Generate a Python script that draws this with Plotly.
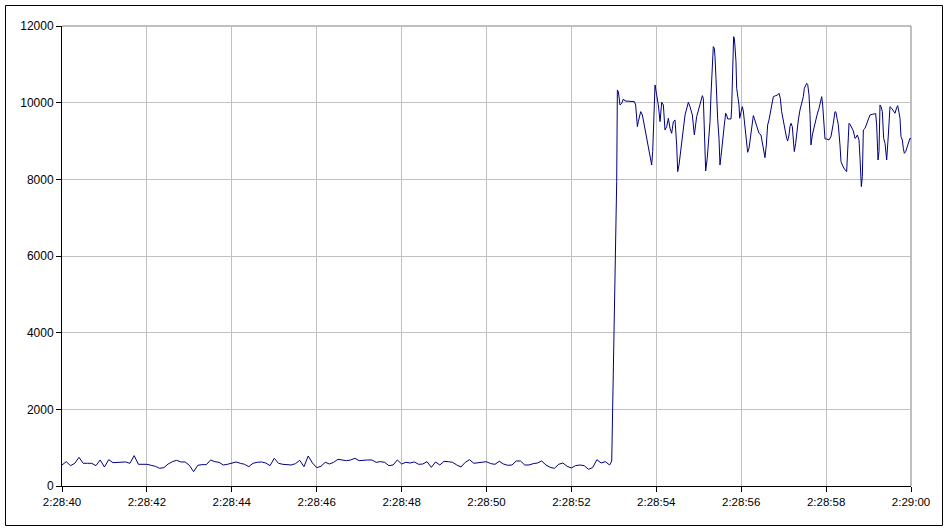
import plotly.graph_objects as go

# ---- data ----
tick_seconds = [0, 2, 4, 6, 8, 10, 12, 14, 16, 18, 20]
tick_labels = ["2:28:40", "2:28:42", "2:28:44", "2:28:46", "2:28:48", "2:28:50",
               "2:28:52", "2:28:54", "2:28:56", "2:28:58", "2:29:00"]

# low-load phase, sampled every 0.1 s from 2:28:40
low_values = [
    548, 635, 531, 592, 748, 592, 592, 592, 531, 679,
    496, 687, 609, 618, 618, 627, 592, 792, 566, 566,
    566, 540, 513, 461, 479, 574, 635, 670, 627, 627,
    540, 374, 540, 557, 557, 679, 635, 618, 548, 566,
    592, 627, 592, 566, 505, 592, 618, 627, 600, 531,
    722, 592, 566, 548, 548, 583, 670, 505, 783, 600,
    479, 513, 618, 574, 618, 696, 679, 661, 679, 722,
    661, 679, 679, 679, 618, 635, 618, 531, 548, 679,
    574, 618, 600, 627, 566, 574, 635, 487, 627, 548,
    644, 635, 618, 548, 496, 618, 687, 592, 600, 618,
    635, 583, 566, 644, 574, 540, 548, 653, 653, 548,
    548, 583, 600, 653, 548, 487, 461, 566, 600, 513,
    470, 531, 548, 531, 435, 479, 687, 600, 635, 548,
]
low_times = [i / 10 for i in range(len(low_values))]

# high-load phase (seconds after 2:28:40)
high_times = [
    12.95, 13.067, 13.083, 13.106, 13.145, 13.185, 13.224, 13.263, 13.342, 13.483,
    13.514, 13.554, 13.577, 13.632, 13.672, 13.734, 13.813, 13.891, 13.915, 13.946,
    13.970, 14.009, 14.048, 14.088, 14.127, 14.166, 14.205, 14.245, 14.284, 14.323,
    14.362, 14.402, 14.441, 14.480, 14.504, 14.535, 14.598, 14.677, 14.755, 14.794,
    14.849, 14.896, 14.951, 15.030, 15.085, 15.108, 15.148, 15.163, 15.200, 15.230,
    15.265, 15.288, 15.320, 15.343, 15.367, 15.383, 15.406, 15.422, 15.445, 15.477,
    15.500, 15.524, 15.555, 15.579, 15.602, 15.634, 15.657, 15.681, 15.760, 15.775,
    15.799, 15.822, 15.838, 15.854, 15.877, 15.893, 15.917, 15.948, 15.964, 15.995,
    16.026, 16.050, 16.074, 16.105, 16.129, 16.152, 16.184, 16.215, 16.246, 16.286,
    16.309, 16.341, 16.364, 16.388, 16.419, 16.466, 16.498, 16.529, 16.560, 16.592,
    16.623, 16.655, 16.686, 16.717, 16.757, 16.812, 16.859, 16.890, 16.922, 16.953,
    16.992, 17.032, 17.071, 17.094, 17.126, 17.149, 17.173, 17.204, 17.228, 17.251,
    17.283, 17.306, 17.346, 17.385, 17.424, 17.464, 17.487, 17.518, 17.542, 17.566,
    17.597, 17.621, 17.636, 17.644, 17.676, 17.723, 17.754, 17.786, 17.833, 17.880,
    17.896, 17.919, 17.943, 17.958, 17.974, 18.013, 18.068, 18.115, 18.147, 18.170,
    18.210, 18.233, 18.257, 18.288, 18.327, 18.351, 18.382, 18.430, 18.484, 18.508,
    18.540, 18.563, 18.602, 18.642, 18.681, 18.704, 18.736, 18.775, 18.799, 18.822,
    18.830, 18.854, 18.877, 18.917, 18.956, 18.995, 19.034, 19.089, 19.168, 19.191,
    19.215, 19.223, 19.246, 19.270, 19.293, 19.325, 19.340, 19.356, 19.388, 19.403,
    19.427, 19.466, 19.505, 19.545, 19.584, 19.623, 19.662, 19.686, 19.717, 19.741,
    19.764, 19.796, 19.819, 19.843, 19.874, 19.898, 19.937, 19.976, 20.0,
]
high_values = [
    650, 7940, 10331, 10288, 9940, 9983, 10096, 10044, 10044, 10027,
    9940, 9375, 9505, 9766, 9679, 9331, 8897, 8375, 8723, 10070,
    10462, 10201, 9940, 9505, 10009, 9940, 9288, 9375, 9592, 9331,
    9201, 9505, 9549, 8897, 8201, 8375, 8897, 9679, 10009, 9896,
    9679, 9157, 9636, 9940, 10183, 10114, 9070, 8218, 8549, 9027,
    9505, 10201, 10810, 11462, 11418, 11201, 10636, 9940, 9592, 9070,
    8375, 8592, 8983, 9157, 9418, 9723, 9679, 9575, 9575, 9853,
    10723, 11723, 11679, 11462, 11071, 10375, 10201, 9940, 9592, 9766,
    9896, 9783, 9505, 9157, 8940, 8705, 8810, 9070, 9418, 9662,
    9592, 9462, 9418, 9262, 9201, 9157, 8983, 8766, 8566, 8897,
    9418, 9549, 9723, 9940, 10157, 10183, 10201, 10244, 10114, 9766,
    9505, 9288, 9070, 9001, 9157, 9375, 9462, 9375, 9070, 8723,
    8940, 9244, 9549, 9810, 9983, 10157, 10375, 10479, 10505, 10479,
    10201, 9696, 9157, 8897, 9157, 9418, 9549, 9679, 9853, 10070,
    10157, 9940, 9592, 9244, 9053, 9053, 9027, 9114, 9288, 9462,
    9766, 9749, 9592, 9418, 8897, 8462, 8375, 8270, 8201, 8810,
    9462, 9436, 9331, 9262, 9070, 9088, 9157, 9027, 8549, 8070,
    7809, 8070, 9288, 9331, 9462, 9592, 9679, 9696, 9714, 9418,
    8766, 8505, 8723, 9940, 9896, 9766, 9418, 9070, 8940, 8766,
    8505, 9157, 9896, 9853, 9783, 9723, 9870, 9923, 9749, 9592,
    9114, 9027, 8810, 8679, 8723, 8810, 8940, 9070, 9053,
]

times = low_times + high_times
values = low_values + high_values

# ---- figure ----
W, H = 948, 531
L, R, T, B = 62, 37, 26, 45
pw, ph = W - L - R, H - T - B

font = dict(family="Liberation Sans, Arial, sans-serif", size=12, color="black")

fig = go.Figure()
fig.add_trace(go.Scatter(
    x=times, y=values, mode="lines",
    line=dict(color="#000080", width=1),
    hoverinfo="skip", showlegend=False,
))

axis_common = dict(
    showgrid=True, gridcolor="#c0c0c0", gridwidth=1,
    zeroline=False, showline=True, linecolor="black", linewidth=1,
    ticks="outside", ticklen=5, tickcolor="black", tickwidth=1,
    fixedrange=True,
)

fig.update_layout(
    width=W, height=H,
    margin=dict(l=L, r=R, t=T, b=B, pad=0),
    paper_bgcolor="white", plot_bgcolor="white",
    font=font,
    xaxis=dict(range=[0, 20], tickmode="array", tickvals=tick_seconds,
               ticktext=tick_labels, tickfont=dict(font, size=11.5), **axis_common),
    yaxis=dict(range=[0, 12000], tickmode="linear", tick0=0, dtick=2000,
               tickformat="d", tickfont=font, **axis_common),
    shapes=[
        # plot-area border (top and right)
        dict(type="line", xref="paper", yref="paper", x0=0, x1=1, y0=1, y1=1,
             line=dict(color="#808080", width=1), layer="below"),
        dict(type="line", xref="paper", yref="paper", x0=1, x1=1, y0=0, y1=1,
             line=dict(color="#808080", width=1), layer="below"),
        # outer chart border
        dict(type="rect", xref="paper", yref="paper",
             x0=(5.5 - L) / pw, x1=(942.5 - L) / pw,
             y0=(H - B - 525.5) / ph, y1=(H - B - 5.5) / ph,
             line=dict(color="black", width=1), fillcolor="rgba(0,0,0,0)"),
    ],
)

fig.write_html("out.html", post_script="document.body.style.margin='0';",
               config={"displayModeBar": False})
